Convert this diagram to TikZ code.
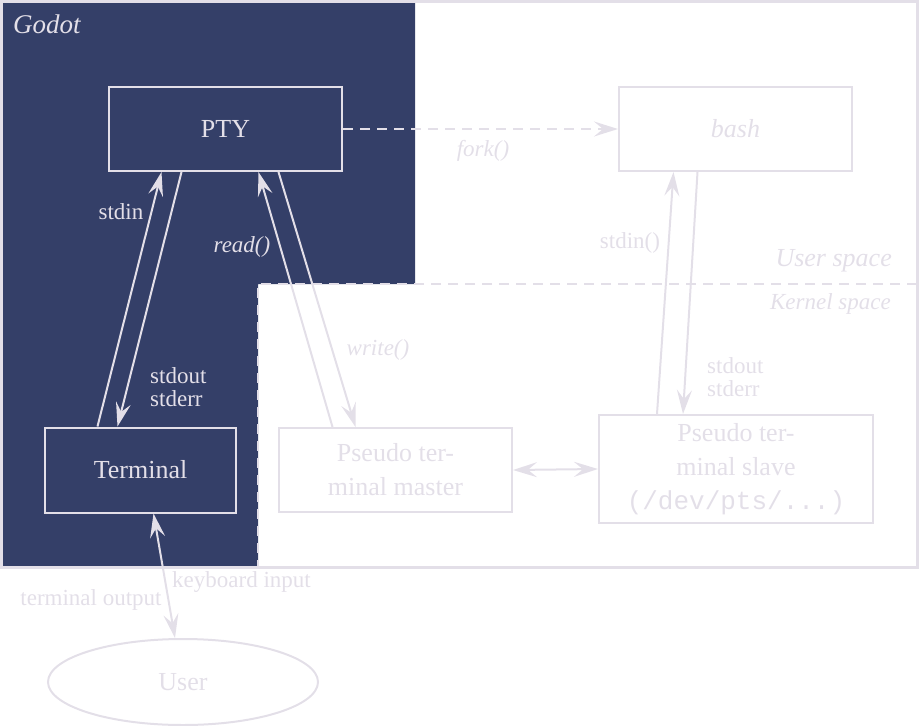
\documentclass[tikz,border=0pt]{standalone}
\usepackage{fontspec}
\setmainfont{Liberation Serif}
\setmonofont{Liberation Mono}
\usetikzlibrary{arrows.meta,shapes.geometric}
\definecolor{godotazul}{RGB}{52,63,104}
\definecolor{claro}{RGB}{227,223,232}
\tikzset{
  caja/.style={draw=claro, line width=2pt, minimum width=233pt, minimum height=84pt,
    align=center, text=claro, font=\fontsize{26}{34}\selectfont, inner sep=0pt},
  flecha/.style={draw=claro, line width=2pt, -{Stealth[length=24pt,width=15pt,inset=9pt]}},
  doble/.style={draw=claro, line width=2pt, {Stealth[length=24pt,width=15pt,inset=9pt]}-{Stealth[length=24pt,width=15pt,inset=9pt]}},
  etiqueta/.style={text=claro, font=\fontsize{23}{23}\selectfont, inner sep=0pt, align=left},
  rayas/.style={draw=claro, line width=2.5pt, dash pattern=on 10pt off 7pt},
}
\begin{document}
\begin{tikzpicture}[x=1pt,y=-1pt]
    \useasboundingbox (0,0) rectangle (919,726);

    % Dibuja la zona de Godot
    \fill[godotazul] (3,3) -- (415,3) -- (415,284) -- (258,284) -- (258,566) -- (3,566) -- cycle;
    \node[etiqueta, anchor=west, font=\fontsize{27}{27}\selectfont\itshape] (godot) at (13,24) {Godot};

    % Dibuja la frontera usuario / nucleo
    \draw[rayas] (917,284) -- (258,284) -- (258,566);
    \node[etiqueta, anchor=east, font=\fontsize{26}{26}\selectfont\itshape] (usuarioesp) at (892,261) {User space};
    \node[etiqueta, anchor=east, font=\fontsize{23}{23}\selectfont\itshape] (nucleoesp) at (891,304) {Kernel space};

    % Dibuja el marco
    \draw[claro, line width=3pt] (1.5,1.5) rectangle (917,567);

    % Dibuja las cajas
    \node[caja] (pty) at (225.5,129) {PTY};
    \node[caja, font=\fontsize{26}{34}\selectfont\itshape] (bash) at (735.5,129) {bash};
    \node[caja, minimum width=191pt, minimum height=85pt] (terminal) at (140.5,470) {Terminal};
    \node[caja] (maestro) at (395.5,470) {Pseudo ter-\\minal master};
    \node[caja, minimum width=274pt, minimum height=108pt] (esclavo) at (736,469) {Pseudo ter-\\minal slave\\\texttt{(/dev/pts/...)}};
    \node[caja, ellipse, minimum width=270pt, minimum height=86pt] (usuario) at (183,682) {User};

    % Dibuja las flechas
    \draw[flecha] ([xshift=-43pt]terminal.north) -- ([xshift=-64pt]pty.south);
    \draw[flecha] ([xshift=-44pt]pty.south) -- ([xshift=-23pt]terminal.north);
    \draw[flecha] ([xshift=-63pt]maestro.north) -- ([xshift=33pt]pty.south);
    \draw[flecha] ([xshift=53pt]pty.south) -- ([xshift=-40pt]maestro.north);
    \draw[flecha] ([xshift=-79pt]esclavo.north) -- ([xshift=-62pt]bash.south);
    \draw[flecha] ([xshift=-38pt]bash.south) -- ([xshift=-53pt]esclavo.north);
    \draw[doble] (maestro.east) -- (esclavo.west);
    \draw[doble] ([xshift=13pt]terminal.south) -- ([xshift=-8pt]usuario.north);
    \draw[rayas, -{Stealth[length=24pt,width=15pt,inset=9pt]}] (pty.east) -- (bash.west);

    % Dibuja las etiquetas
    \node[etiqueta] (stdin) at (121,212) {stdin};
    \node[etiqueta, font=\fontsize{23}{23}\selectfont\itshape] (read) at (242,247) {read()};
    \node[etiqueta, anchor=west] (salida) at (150,387) {stdout\\stderr};
    \node[etiqueta, font=\fontsize{23}{23}\selectfont\itshape] (write) at (378,350) {write()};
    \node[etiqueta] (stdinb) at (630,243) {stdin()};
    \node[etiqueta, anchor=west] (salidab) at (707,377) {stdout\\stderr};
    \node[etiqueta, font=\fontsize{23}{23}\selectfont\itshape] (fork) at (483,151) {fork()};
    \node[etiqueta, anchor=west] (teclado) at (172,582) {keyboard input};
    \node[etiqueta] (pantalla) at (91,600) {terminal output};
\end{tikzpicture}
\end{document}
